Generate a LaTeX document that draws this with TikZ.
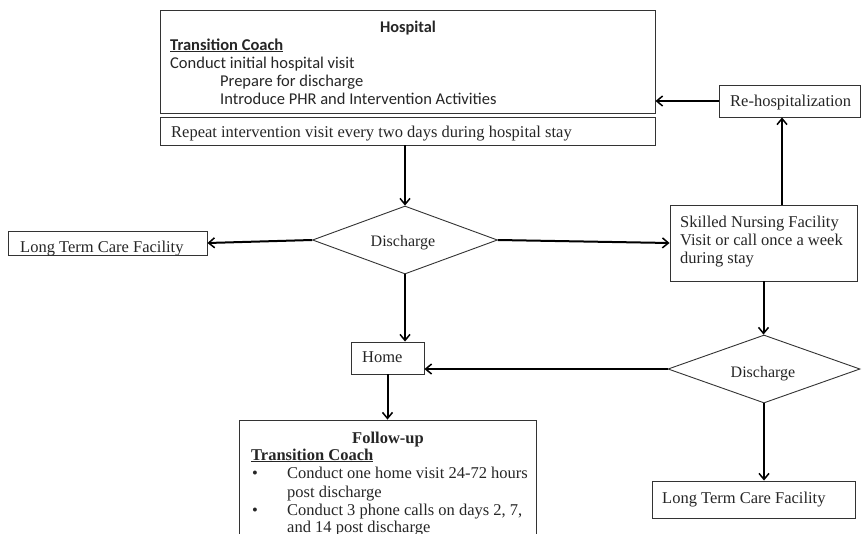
\documentclass[tikz,border=0pt]{standalone}
\usepackage{fontspec}
\setmainfont{Liberation Serif}
\newfontfamily\calfont{Carlito}
\usetikzlibrary{shapes.geometric,arrows.meta,calc}
\begin{document}
\begin{tikzpicture}[x=1pt,y=-1pt,
  box/.style={draw=black!80,line width=0.9pt,rectangle,inner sep=0pt},
  dia/.style={draw=black!80,line width=0.9pt,diamond,inner sep=0pt},
  arr/.style={line width=2pt,-{Straight Barb[length=6pt,width=10pt,line width=1.5pt]}},
  txt/.style={inner sep=0pt,anchor=base west,text=black!85,font=\fontsize{16.5}{18}\selectfont},
  ctxt/.style={inner sep=0pt,anchor=base,text=black!85,font=\fontsize{16.5}{18}\selectfont},
  ctx/.style={inner sep=0pt,anchor=base west,text=black!85,font=\calfont\fontsize{16.5}{18}\selectfont}]
\clip (0,0) rectangle (862,533);
\fill[white] (0,0) rectangle (862,533);
% boxes
\node[box,minimum width=495pt,minimum height=103pt] (hosp) at (407.5,61.5) {};
\node[box,minimum width=495pt,minimum height=28pt] (rep) at (407.5,131) {};
\node[dia,minimum width=185pt,minimum height=68pt] (d1) at (405,240) {};
\node[box,minimum width=199pt,minimum height=24pt] (ltc1) at (107.5,243) {};
\node[box,minimum width=141pt,minimum height=32pt] (rh) at (789.5,101) {};
\node[box,minimum width=187pt,minimum height=76pt] (snf) at (763.5,243) {};
\node[dia,minimum width=192pt,minimum height=68pt] (d2) at (764,369) {};
\node[box,minimum width=203pt,minimum height=37pt] (ltc2) at (753.5,499.5) {};
\node[box,minimum width=73pt,minimum height=32pt] (home) at (387.5,358) {};
\node[box,minimum width=297pt,minimum height=180pt] (fu) at (387.5,510) {};
% texts
\node[inner sep=0pt,anchor=base,text=black!85,font=\calfont\bfseries\fontsize{16.3}{18}\selectfont] (t1) at (408,32) {Hospital};
\node[ctx,font=\calfont\bfseries\fontsize{16.5}{18}\selectfont] (t2) at (170,50) {\underline{Transition Coach}};
\node[ctx] (t3) at (170,68) {Conduct initial hospital visit};
\node[ctx] (t4) at (220,86.5) {Prepare for discharge};
\node[ctx] (t5) at (220,104.5) {Introduce PHR and Intervention Activities};
\node[txt] (t6) at (171,137) {Repeat intervention visit every two days during hospital stay};
\node[ctxt,font=\fontsize{16}{18}\selectfont] (t7) at (403,246) {Discharge};
\node[txt] (t8) at (20,252) {Long Term Care Facility};
\node[txt] (t9) at (730,106) {Re-hospitalization};
\node[txt] (t10) at (680,227) {Skilled Nursing Facility};
\node[txt] (t11) at (680,245) {Visit or call once a week};
\node[txt] (t12) at (680,263) {during stay};
\node[txt] (t13) at (362,362) {Home};
\node[ctxt,font=\fontsize{16}{18}\selectfont] (t14) at (763,377) {Discharge};
\node[txt] (t15) at (662,503) {Long Term Care Facility};
\node[ctxt,font=\bfseries\fontsize{16.5}{18}\selectfont] (t16) at (388,443) {Follow-up};
\node[txt,font=\bfseries\fontsize{16.5}{18}\selectfont] (t17) at (251,460) {\underline{Transition Coach}};
\node[txt] (b1) at (252,478) {\textbullet};
\node[txt] (t18) at (287,478) {Conduct one home visit 24-72 hours};
\node[txt] (t19) at (287,497) {post discharge};
\node[txt] (b2) at (252,515) {\textbullet};
\node[txt] (t20) at (287,515) {Conduct 3 phone calls on days 2, 7,};
\node[txt] (t21) at (287,532) {and 14 post discharge};
% connectors
\draw[arr] (d1.north |- rep.south) -- (d1.north);
\draw[arr] (d1.west) -- (ltc1.east);
\draw[arr] (d1.east) -- (snf.west);
\draw[arr] (d1.south) -- (d1.south |- home.north);
\draw[arr] (home.south) -- (home.south |- fu.north);
\draw[arr] (d2.west) -- (d2.west -| home.east);
\draw[arr] ([xshift=18.5pt]snf.north) -- ([xshift=18.5pt]snf.north |- rh.south);
\draw[arr] (rh.west) -- (rh.west -| hosp.east);
\draw[arr] (snf.south) -- (snf.south |- d2.north);
\draw[arr] (d2.south) -- (d2.south |- ltc2.north);
\end{tikzpicture}
\end{document}
